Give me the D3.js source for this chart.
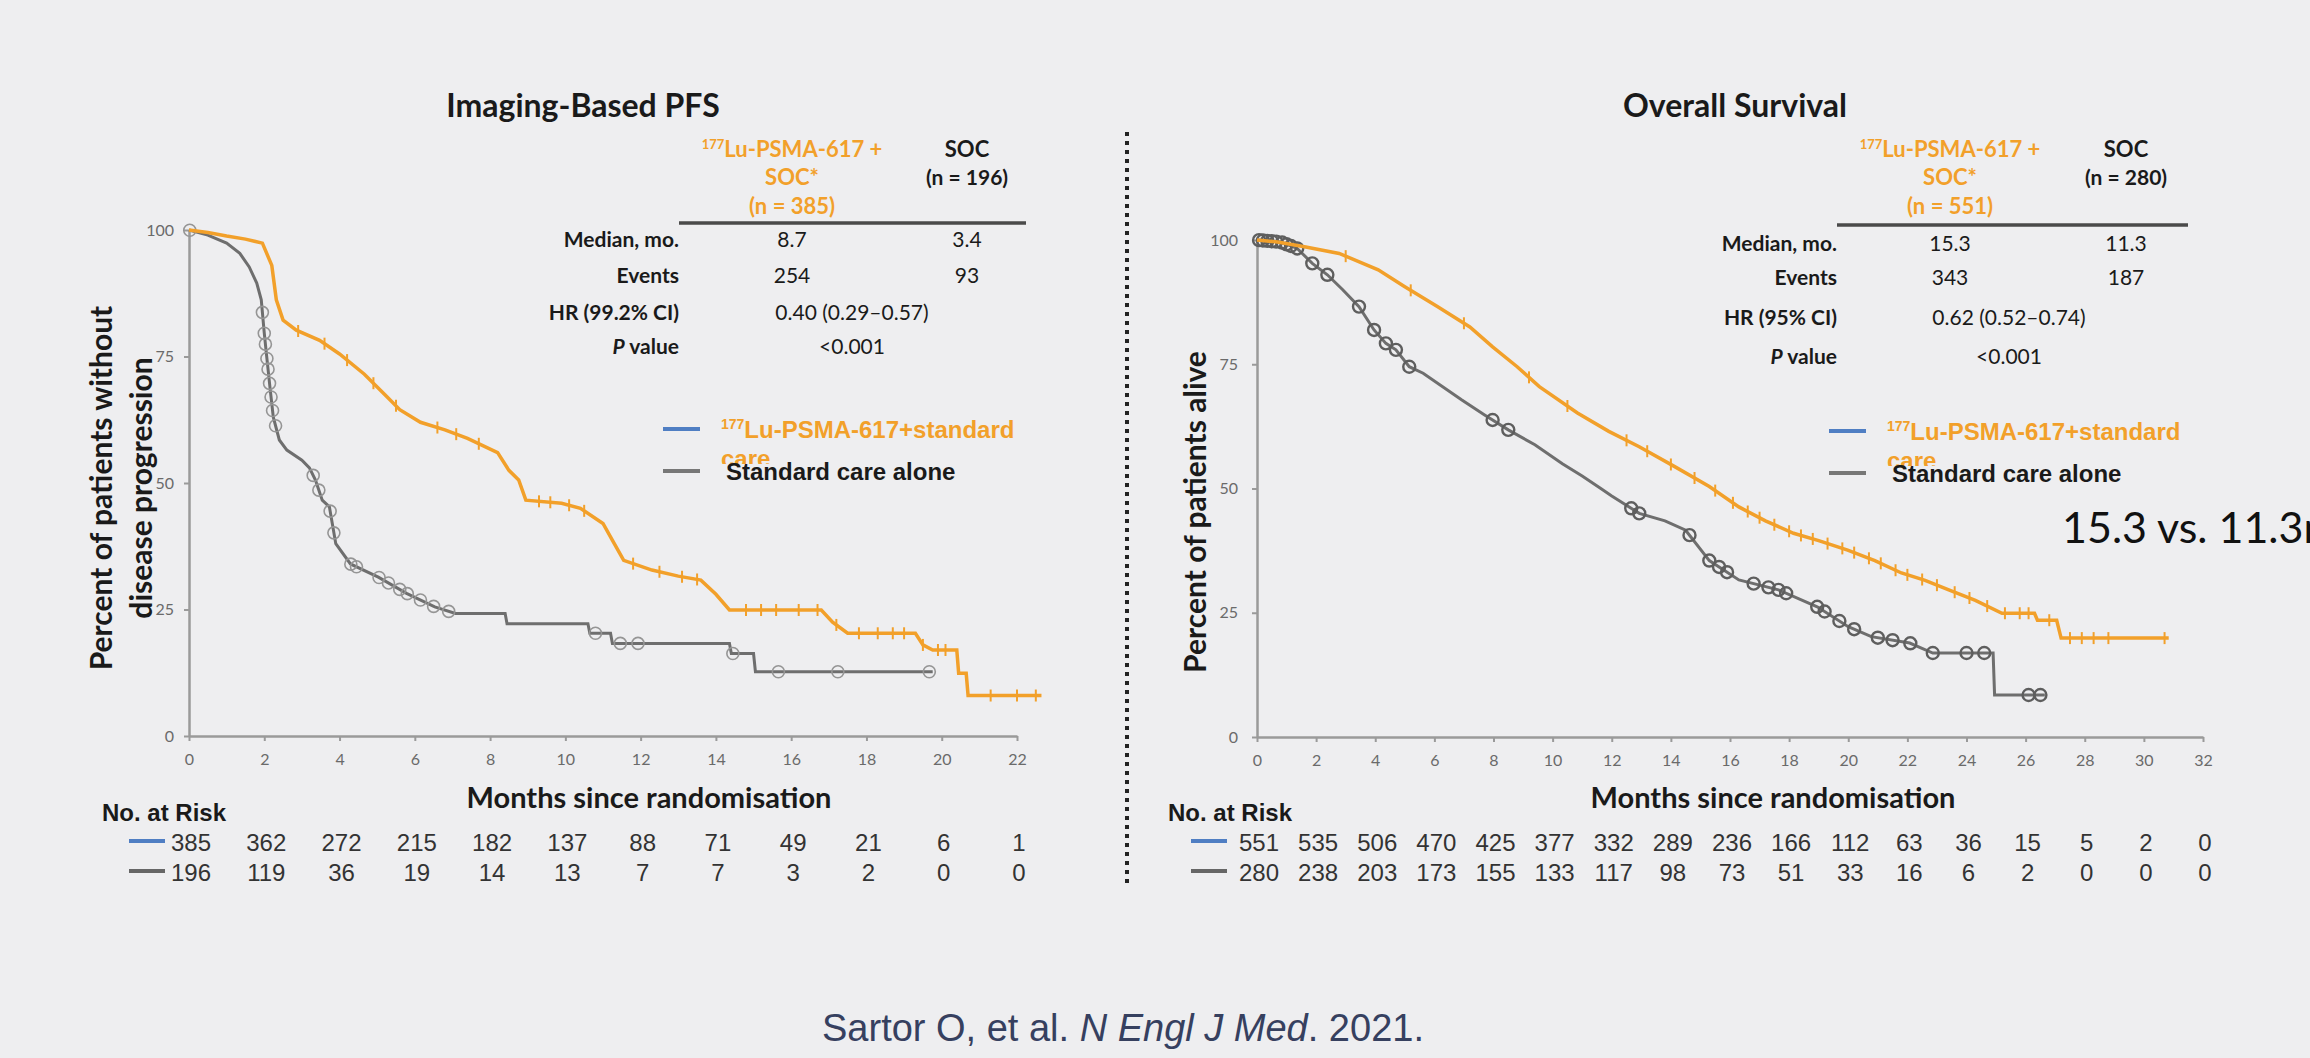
<!DOCTYPE html>
<html>
<head>
<meta charset="utf-8">
<title>VISION trial – Imaging-Based PFS and Overall Survival</title>
<style>
  html, body { margin: 0; padding: 0; background: #eeeef0; }
  svg { display: block; }
</style>
</head>
<body>
<div id="chart"></div>
<script src="https://d3js.org/d3.v7.min.js"></script>
<script>
// ---------- data (months, percent) ----------
const pfsLu = [[0,100],[0.5,99.5],[1.0,98.8],[1.5,98.2],[1.95,97.4],[2.2,93],[2.32,86.2],[2.5,82.2],[2.85,80.2],
  [3.47,78.2],[4.0,75.5],[4.66,71.5],[5.2,67.5],[5.6,64.5],[6.15,62],[6.8,60.5],[7.4,58.8],[8.2,56],[8.5,52.5],
  [8.76,50.6],[8.95,46.6],[9.9,46],[10.4,45],[11.0,42],[11.3,38],[11.55,34.7],[12.3,32.8],[13.0,31.6],[13.6,30.8],
  [14.0,28],[14.36,24.9],[16.8,24.9],[17.1,22.5],[17.5,20.3],[19.3,20.3],[19.5,18],[19.76,17],[20.4,17],
  [20.45,12.4],[20.65,12.4],[20.7,8],[22.65,8]];
const pfsSoc = [[0,100],[0.5,99],[1.0,97.4],[1.35,95.4],[1.6,92.7],[1.8,89.5],[1.92,86.2],[2.0,79.6],[2.05,76],
  [2.15,69],[2.24,63],[2.4,58.5],[2.6,56.5],[3.0,54.5],[3.2,53],[3.36,50.6],[3.54,46.6],[3.73,45.3],[3.9,38],
  [4.29,34],[5.03,31.4],[5.78,28.2],[6.53,25.5],[7.08,24.2],[8.4,24.2],[8.45,22.2],[10.6,22.2],[10.65,20.3],
  [11.2,20.3],[11.25,18.3],[14.36,18.3],[14.41,16.3],[15.0,16.3],[15.05,12.7],[19.76,12.7]];
const pfsLuCensor = [2.9,3.6,4.2,4.9,5.5,6.6,7.1,7.7,9.3,9.6,10.1,10.5,11.8,12.5,13.1,13.5,14.8,15.2,15.6,16.2,
  16.7,17.2,17.8,18.3,18.7,19.0,19.5,19.9,20.1,21.3,22.0,22.5];
const pfsSocCensor = [0.02,1.95,2.0,2.03,2.07,2.1,2.14,2.18,2.22,2.3,3.3,3.45,3.75,3.85,4.3,4.45,5.05,5.3,5.6,5.8,
  6.15,6.5,6.9,10.8,11.46,11.93,14.45,15.66,17.24,19.67];

const osLu = [[0,100],[0.7,99.6],[1.65,98.6],[2.78,97.3],[3.5,95.5],[4.1,94],[5.0,90.6],[6.1,86.6],[7.2,82.5],
  [7.97,78.5],[8.8,74.5],[9.55,70.5],[10.84,65.2],[11.9,61.5],[12.93,58.4],[14.1,54.5],[15.3,50.4],[16.3,46.3],
  [17.2,43.5],[18.15,41],[19.0,39.5],[19.98,37.6],[20.9,35.5],[21.8,33],[22.6,31.5],[23.4,29.6],[24.3,27.5],
  [25.2,24.9],[26.3,24.9],[26.4,23.5],[27.05,23.5],[27.2,19.9],[30.84,19.9]];
const osSoc = [[0,100],[0.8,99.6],[1.36,98.3],[1.87,95.3],[2.38,93],[2.9,90],[3.45,86.6],[3.96,81.9],[4.36,79.2],
  [4.7,77.9],[5.15,74.5],[5.62,73.2],[6.93,67.8],[7.7,64.8],[8.5,61.8],[9.4,58.8],[10.33,55],[11.0,52.5],
  [11.63,50],[12.0,48.5],[12.93,45],[13.8,43.5],[14.5,41.6],[15.3,35.5],[16.3,31.6],[17.64,29.6],[18.95,26.2],
  [20.0,22.2],[20.78,20.2],[22.08,18.9],[22.86,16.9],[24.9,16.9],[24.95,8.45],[26.65,8.45]];
const osLuCensor = [3.0,5.2,7.0,9.2,10.5,12.5,13.2,14.0,14.8,15.5,16.1,16.6,17.0,17.5,18.0,18.4,18.8,19.3,19.8,
  20.2,20.7,21.1,21.6,22.0,22.5,23.0,23.6,24.1,24.7,25.3,25.8,26.1,26.8,27.5,27.9,28.3,28.8,30.7];
const osSocCensor = [0.07,0.2,0.35,0.5,0.65,0.85,1.0,1.15,1.36,1.87,2.38,3.45,3.96,4.36,4.7,5.15,7.97,8.5,12.66,
  12.93,14.63,15.3,15.63,15.9,16.8,17.3,17.64,17.9,18.95,19.2,19.7,20.2,21.0,21.5,22.1,22.86,24.0,24.6,26.1,26.5];

const yTicks = [0, 25, 50, 75, 100];
const pfsTicks = [0, 2, 4, 6, 8, 10, 12, 14, 16, 18, 20, 22];
const osTicks = [0, 2, 4, 6, 8, 10, 12, 14, 16, 18, 20, 22, 24, 26, 28, 30, 32];

const pfsRiskLu = [385, 362, 272, 215, 182, 137, 88, 71, 49, 21, 6, 1];
const pfsRiskSoc = [196, 119, 36, 19, 14, 13, 7, 7, 3, 2, 0, 0];
const osRiskLu = [551, 535, 506, 470, 425, 377, 332, 289, 236, 166, 112, 63, 36, 15, 5, 2, 0];
const osRiskSoc = [280, 238, 203, 173, 155, 133, 117, 98, 73, 51, 33, 16, 6, 2, 0, 0, 0];

const pfsN = ["385", "196"];
const osN = ["551", "280"];
const pfsMedian = ["8.7", "3.4"];
const osMedian = ["15.3", "11.3"];
const pfsEvents = ["254", "93"];
const osEvents = ["343", "187"];
const pfsHR = ["HR (99.2% CI)", "0.40 (0.29\u20130.57)"];
const osHR = ["HR (95% CI)", "0.62 (0.52\u20130.74)"];
const pValue = "<0.001";

// ---------- setup ----------
const W = 2310, H = 1058;
const BG = "#eeeef0";
const ORANGE = "#f2a02a", GRAY = "#6e6e6e", BLUE = "#4f7ec3", AXIS = "#9a9a9a";
const CAL = "Lato, 'Open Sans', sans-serif";
const ARIAL = "'Liberation Sans', Arial, sans-serif";

const svg = d3.select("#chart").append("svg")
  .attr("width", W).attr("height", H)
  .attr("viewBox", [0, 0, W, H]);

svg.append("rect").attr("width", W).attr("height", H).attr("fill", BG);

function label(parent, x, y, txt, o = {}) {
  return parent.append("text")
    .attr("x", x).attr("y", y)
    .attr("text-anchor", o.anchor || "start")
    .attr("font-family", o.font || CAL)
    .attr("font-size", o.size || 22)
    .attr("font-weight", o.weight || 400)
    .attr("font-style", o.style || "normal")
    .attr("fill", o.color || "#222")
    .text(txt);
}

function drawPanel(p) {
  const g = svg.append("g");
  const x = d3.scaleLinear().domain([0, p.ticks[p.ticks.length - 1]]).range([p.left, p.right]);
  const y = d3.scaleLinear().domain([0, 100]).range([p.bottom, p.top]);

  label(g, (p.left + p.right) / 2 + p.titleDx, 117, p.title, { anchor: "middle", size: 32, weight: 700, color: "#1a1a1a" });

  // axes
  const ya = g.append("g").attr("transform", `translate(${p.left},0)`)
    .call(d3.axisLeft(y).tickValues(yTicks).tickSize(5).tickSizeOuter(0).tickPadding(p.yPad));
  const xa = g.append("g").attr("transform", `translate(0,${p.bottom})`)
    .call(d3.axisBottom(x).tickValues(p.ticks).tickSize(5).tickSizeOuter(0).tickPadding(13));
  [ya, xa].forEach(a => {
    a.select(".domain").attr("stroke", AXIS).attr("stroke-width", 2.5);
    a.selectAll(".tick line").attr("stroke", AXIS).attr("stroke-width", 2);
    a.selectAll(".tick text").attr("fill", "#6a6a6a").attr("font-family", CAL).attr("font-size", 16);
  });

  // y label (one or two lines)
  p.yLabel.forEach((t, i) => {
    g.append("text")
      .attr("transform", `translate(${p.yLabelX[i]},${p.yLabelY}) rotate(-90)`)
      .attr("text-anchor", "middle")
      .attr("font-family", CAL).attr("font-size", 30).attr("font-weight", 700)
      .attr("fill", "#1a1a1a").text(t);
  });

  label(g, p.xLabelX, 808, "Months since randomisation", { anchor: "middle", size: 29, weight: 700, color: "#1a1a1a" });

  // curves
  const line = d3.line().x(d => x(d[0])).y(d => y(d[1]));
  const socAt = d3.scaleLinear().domain(p.soc.map(d => d[0])).range(p.soc.map(d => d[1]));
  const luAt = d3.scaleLinear().domain(p.lu.map(d => d[0])).range(p.lu.map(d => d[1]));

  g.append("path").datum(p.soc).attr("d", line)
    .attr("fill", "none").attr("stroke", GRAY).attr("stroke-width", 3);
  g.selectAll(".cs").data(p.socCensor).join("circle")
    .attr("cx", d => x(d)).attr("cy", d => y(socAt(d))).attr("r", 6)
    .attr("fill", "none").attr("stroke", p.circleColor).attr("stroke-width", p.circleWidth);

  g.append("path").datum(p.lu).attr("d", line)
    .attr("fill", "none").attr("stroke", ORANGE).attr("stroke-width", 3.5);
  g.selectAll(".cl").data(p.luCensor).join("line")
    .attr("x1", d => x(d)).attr("x2", d => x(d))
    .attr("y1", d => y(luAt(d)) - 6).attr("y2", d => y(luAt(d)) + 6)
    .attr("stroke", ORANGE).attr("stroke-width", 2);

  // table
  const t = p.table;
  const head = label(g, t.c1, t.headY[0], "", { anchor: "middle", size: 22, weight: 700, color: ORANGE });
  head.append("tspan").attr("font-size", 13).attr("dy", -8).text("177");
  head.append("tspan").attr("dy", 8).text("Lu-PSMA-617 +");
  label(g, t.c1, t.headY[1], "SOC*", { anchor: "middle", size: 22, weight: 700, color: ORANGE });
  label(g, t.c1, t.headY[2], `(n = ${p.n[0]})`, { anchor: "middle", size: 22, weight: 700, color: ORANGE });
  label(g, t.c2, t.headY[0], "SOC", { anchor: "middle", size: 22, weight: 700, color: "#1a1a1a" });
  label(g, t.c2, t.headY[1], `(n = ${p.n[1]})`, { anchor: "middle", size: 21, weight: 700, color: "#1a1a1a" });
  g.append("line").attr("x1", t.x1).attr("x2", t.x2).attr("y1", t.ruleY).attr("y2", t.ruleY)
    .attr("stroke", "#4a4a4a").attr("stroke-width", 3.5);

  const rowLabels = ["Median, mo.", "Events", p.hr[0]];
  rowLabels.forEach((r, i) => label(g, t.x1, t.rowY[i], r, { anchor: "end", size: 21, weight: 700, color: "#1a1a1a" }));
  const pl = label(g, t.x1, t.rowY[3], "", { anchor: "end", size: 21, weight: 700, color: "#1a1a1a" });
  pl.append("tspan").attr("font-style", "italic").text("P");
  pl.append("tspan").text(" value");
  [p.median, p.events].forEach((vals, i) => {
    label(g, t.c1, t.rowY[i], vals[0], { anchor: "middle", size: 21, color: "#1a1a1a" });
    label(g, t.c2, t.rowY[i], vals[1], { anchor: "middle", size: 21, color: "#1a1a1a" });
  });
  label(g, t.mid, t.rowY[2], p.hr[1], { anchor: "middle", size: 21, color: "#1a1a1a" });
  label(g, t.mid, t.rowY[3], pValue, { anchor: "middle", size: 21, color: "#1a1a1a" });

  // legend: the wrapped "care" sits behind the second entry, as in the figure
  const L = p.legend;
  g.append("line").attr("x1", L.x).attr("x2", L.x + 37).attr("y1", L.y).attr("y2", L.y)
    .attr("stroke", BLUE).attr("stroke-width", 4);
  const lt = label(g, L.x + 58, L.y + 9, "", { font: ARIAL, size: 24, weight: 700, color: ORANGE });
  lt.append("tspan").attr("font-size", 14).attr("dy", -9).text("177");
  lt.append("tspan").attr("dy", 9).text("Lu-PSMA-617+standard");
  label(g, L.x + 58, L.y + 38, "care", { font: ARIAL, size: 24, weight: 700, color: ORANGE });
  g.append("rect").attr("x", L.x - 4).attr("y", L.y + 35).attr("width", 300).attr("height", 22).attr("fill", BG);
  g.append("line").attr("x1", L.x).attr("x2", L.x + 37).attr("y1", L.y + 42).attr("y2", L.y + 42)
    .attr("stroke", "#777").attr("stroke-width", 4);
  label(g, L.x + 63, L.y + 51, "Standard care alone", { font: ARIAL, size: 24, weight: 700, color: "#1a1a1a" });

  // number at risk
  label(g, p.riskX, 821, "No. at Risk", { font: ARIAL, size: 24, weight: 700, color: "#1a1a1a" });
  [[p.riskLu, BLUE, 851], [p.riskSoc, "#666", 881]].forEach(([vals, col, yy]) => {
    g.append("line").attr("x1", p.riskLineX).attr("x2", p.riskLineX + 36)
      .attr("y1", yy - 10).attr("y2", yy - 10).attr("stroke", col).attr("stroke-width", 4);
    g.selectAll(null).data(vals).join("text")
      .attr("x", (d, i) => x(p.ticks[i]) + 2).attr("y", yy)
      .attr("text-anchor", "middle")
      .attr("font-family", ARIAL).attr("font-size", 24).attr("fill", "#333")
      .text(d => d);
  });
}

drawPanel({
  title: "Imaging-Based PFS", titleDx: -20,
  left: 189, right: 1017, top: 230, bottom: 736, yPad: 10,
  ticks: pfsTicks, lu: pfsLu, soc: pfsSoc, luCensor: pfsLuCensor, socCensor: pfsSocCensor,
  circleColor: "#959595", circleWidth: 1.6,
  yLabel: ["Percent of patients without", "disease progression"], yLabelX: [112, 152], yLabelY: 488,
  xLabelX: 649,
  table: { c1: 792, c2: 967, mid: 852, x1: 679, x2: 1026, ruleY: 223,
           headY: [157, 185, 214], rowY: [247, 283, 320, 354] },
  n: pfsN, median: pfsMedian, events: pfsEvents, hr: pfsHR,
  legend: { x: 663, y: 429 },
  riskX: 102, riskLineX: 129, riskLu: pfsRiskLu, riskSoc: pfsRiskSoc
});

drawPanel({
  title: "Overall Survival", titleDx: 5,
  left: 1257, right: 2203, top: 240, bottom: 737, yPad: 14,
  ticks: osTicks, lu: osLu, soc: osSoc, luCensor: osLuCensor, socCensor: osSocCensor,
  circleColor: "#5e5e5e", circleWidth: 2.4,
  yLabel: ["Percent of patients alive"], yLabelX: [1206], yLabelY: 512,
  xLabelX: 1773,
  table: { c1: 1950, c2: 2126, mid: 2009, x1: 1837, x2: 2188, ruleY: 225,
           headY: [157, 185, 214], rowY: [251, 285, 325, 364] },
  n: osN, median: osMedian, events: osEvents, hr: osHR,
  legend: { x: 1829, y: 431 },
  riskX: 1168, riskLineX: 1191, riskLu: osRiskLu, riskSoc: osRiskSoc
});

// dotted divider between the panels
svg.append("line").attr("x1", 1127).attr("x2", 1127).attr("y1", 132).attr("y2", 886)
  .attr("stroke", "#222").attr("stroke-width", 4).attr("stroke-dasharray", "4,5");

// slide annotation (runs off the right edge, as in the slide)
label(svg, 2062, 543, "15.3 vs. 11.3mo", { font: CAL, size: 43, color: "#111" });

// citation
const cite = label(svg, 822, 1041, "", { font: ARIAL, size: 38, color: "#36405f" });
cite.append("tspan").text("Sartor O, et al. ");
cite.append("tspan").attr("font-style", "italic").text("N Engl J Med");
cite.append("tspan").text(". 2021.");
</script>
</body>
</html>
